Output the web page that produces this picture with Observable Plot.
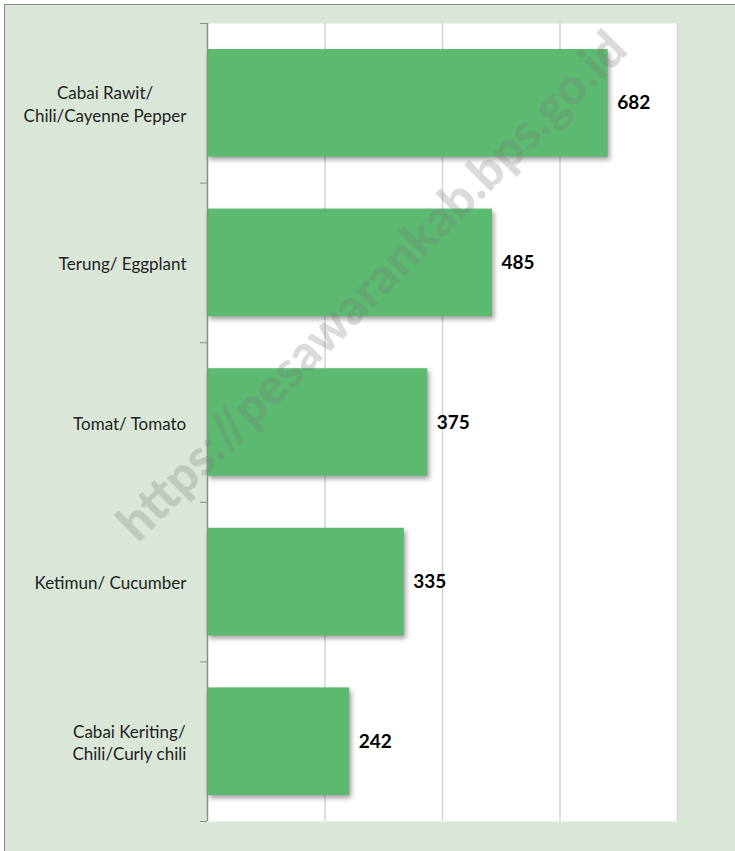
<!DOCTYPE html>
<html>
<head>
<meta charset="utf-8">
<script src="https://cdn.jsdelivr.net/npm/d3@7"></script>
<script src="https://cdn.jsdelivr.net/npm/@observablehq/plot@0.6"></script>
<style>
  html, body { margin: 0; padding: 0; background: #ffffff; }
  #frame {
    position: absolute; left: 4px; top: 4px; width: 740px; height: 860px;
    background: #dae7d8; border-top: 1px solid #8a8a8a; border-left: 1px solid #8a8a8a;
    overflow: hidden;
  }
  #chart { position: absolute; left: -5px; top: -5px; }
  g[aria-label="rect"] rect { filter: drop-shadow(2px 3px 2.5px rgba(0,0,0,0.38)); }
</style>
</head>
<body>
<div id="frame"><div id="chart"></div></div>
<script>
const categories = [
  "Cabai Rawit/\nChili/Cayenne Pepper",
  "Terung/ Eggplant",
  "Tomat/ Tomato",
  "Ketimun/ Cucumber",
  "Cabai Keriting/\nChili/Curly chili"
];
const values = [682, 485, 375, 335, 242];
const xTicks = [0, 200, 400, 600, 800];
const watermark = "https://pesawarankab.bps.go.id";

const data = categories.map((c, i) => ({cat: c, value: values[i], i}));

const labelFont = "Lato";
const labelSize = 17;
const ctx = document.createElement("canvas").getContext("2d");
ctx.font = `${labelSize}px ${labelFont}`;
function blockWidth(s) {
  return d3.max(s.split("\n"), line => ctx.measureText(line).width);
}

const labelMarks = data.map(d => Plot.text([d], {
  x: 0,
  y: e => e.i + 0.5,
  text: "cat",
  textAnchor: "middle",
  lineHeight: 1.33,
  dx: -(21 + blockWidth(d.cat) / 2),
  fontSize: labelSize,
  fill: "#222"
}));

const chart = Plot.plot({
  width: 735,
  height: 851,
  marginLeft: 207,
  marginRight: 58,
  marginTop: 23,
  marginBottom: 30,
  x: {domain: [xTicks[0], xTicks[xTicks.length - 1]], axis: null},
  y: {domain: [0, categories.length], reverse: true, axis: null},
  style: {background: "transparent", fontFamily: labelFont, overflow: "visible"},
  marks: [
    Plot.frame({fill: "white", stroke: null}),
    Plot.gridX({ticks: xTicks.slice(1), stroke: "#d3d3d3", strokeOpacity: 1, strokeWidth: 1.5}),
    Plot.rectX(data, {
      x1: 0, x2: "value",
      y1: "i", y2: d => d.i + 1,
      insetTop: 26, insetBottom: 26,
      fill: "#5bba70"
    }),
    Plot.ruleX([0], {stroke: "#8c8c8c", strokeWidth: 1.5}),
    Plot.axisY({ticks: d3.range(0, categories.length + 1), tickFormat: () => "", label: null, tickSize: 7, stroke: "#8c8c8c", anchor: "left"}),
    ...labelMarks,
    Plot.text(data, {
      x: "value", y: d => d.i + 0.5,
      text: d => String(d.value),
      textAnchor: "start", dx: 9,
      fontWeight: "bold", fontSize: 19, fill: "#000"
    }),
    Plot.text([watermark], {
      frameAnchor: "middle",
      text: d => d,
      rotate: -45,
      dx: -70, dy: -136,
      fontSize: 50, fontWeight: 900,
      fill: "#7a7a7a", fillOpacity: 0.27
    })
  ]
});
document.getElementById("chart").appendChild(chart);
</script>
</body>
</html>
